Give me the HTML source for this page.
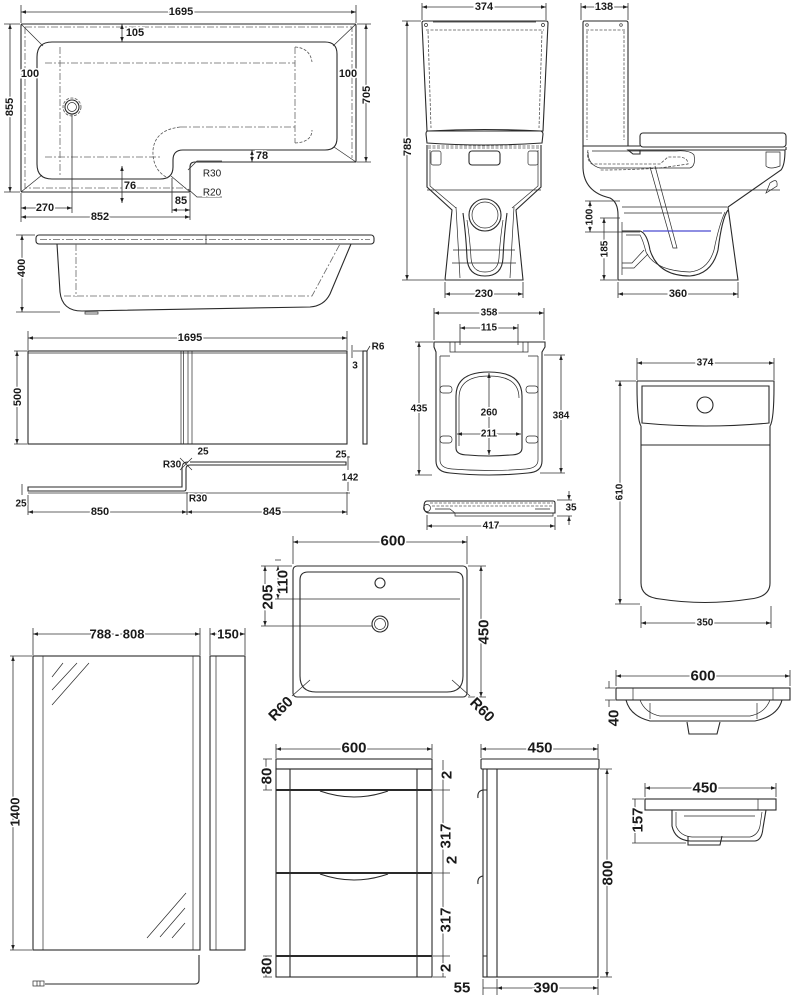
<!DOCTYPE html>
<html><head><meta charset="utf-8"><style>
html,body{margin:0;padding:0;background:#fff;}
svg{display:block;}
.l{fill:none;stroke:#2a2a2a;stroke-width:1.1;}
.th{fill:none;stroke:#2a2a2a;stroke-width:0.7;}
.dd{fill:none;stroke:#666;stroke-width:0.8;stroke-dasharray:7 2 2 2;}
.ds{fill:none;stroke:#555;stroke-width:0.8;stroke-dasharray:3 1.5;}
.d{fill:none;stroke:#333;stroke-width:0.8;}
.t{font-family:"Liberation Sans",sans-serif;font-weight:bold;font-size:11px;fill:#1a1a1a;stroke:#fff;stroke-width:3;paint-order:stroke;text-anchor:middle;dominant-baseline:central;}
.b{font-size:15px;}
.m{font-size:13px;}
.s{font-size:10px;}
</style></head><body>
<svg width="800" height="1000" viewBox="0 0 800 1000" xmlns="http://www.w3.org/2000/svg">
<defs>
<marker id="a" viewBox="0 0 10 10" refX="10" refY="5" markerWidth="5" markerHeight="5" markerUnits="userSpaceOnUse" orient="auto-start-reverse"><path d="M0,1.5 L10,5 L0,8.5z" fill="#222"/></marker>
</defs>

<!-- ================= BATH TOP VIEW ================= -->
<g>
<path class="l" d="M22,24 H355 Q356,24 356,26 V162 H195 Q190,162 190,167 V192 H22 Q21,192 21,190 V26 Q21,24 22,24 Z"/>
<path class="dd" d="M25,27 H352 V158 M25,27 V188 H186"/>
<path class="l" d="M52,42 H325 Q337,42 337,54 V138 Q337,150 325,150 H183 Q173,150 173,160 V167 Q173,179 160,179 H52 Q37,179 37,164 V57 Q37,42 52,42 Z"/>
<path class="th" d="M21,24 L43,46 M356,24 L333,46 M356,162 L334,147 M21,192 L42,175 M190,192 L171,176"/>
<path class="dd" d="M45,63 H295 M60,47 V175 M45,157 H160 M295,47 V143 M180,127 H295"/>
<path class="ds" d="M180,127 Q155,130 153,150 Q152,170 168,178 M295,47 Q310,48 312,62 M295,143 Q312,142 312,130"/>
<circle class="l" cx="72" cy="107" r="7"/><circle class="th" cx="72" cy="107" r="4.5"/><circle class="ds" cx="72" cy="107" r="9"/>
<path class="d" d="M72,114 V213"/>
<!-- dims -->
<path class="d" d="M21,5 V23 M356,5 V23"/>
<line class="d" x1="21" y1="12" x2="356" y2="12" marker-start="url(#a)" marker-end="url(#a)"/>
<text class="t" x="181" y="12">1695</text>
<path class="d" d="M4,24 H20 M4,192 H20"/>
<line class="d" x1="10" y1="24" x2="10" y2="192" marker-start="url(#a)" marker-end="url(#a)"/>
<text class="t" transform="translate(10,107) rotate(-90)">855</text>
<path class="d" d="M357,24 H371 M357,162 H371"/>
<line class="d" x1="366" y1="24" x2="366" y2="162" marker-start="url(#a)" marker-end="url(#a)"/>
<text class="t" transform="translate(367,95) rotate(-90)">705</text>
<line class="d" x1="122" y1="24" x2="122" y2="42" marker-start="url(#a)" marker-end="url(#a)"/>
<text class="t" x="135" y="33">105</text>
<text class="t" x="30" y="74">100</text>
<text class="t" x="348" y="74">100</text>
<line class="d" x1="252" y1="150" x2="252" y2="162" marker-start="url(#a)" marker-end="url(#a)"/>
<text class="t" x="262" y="156">78</text>
<line class="d" x1="122" y1="166" x2="122" y2="203" marker-start="url(#a)" marker-end="url(#a)"/>
<text class="t" x="130" y="186">76</text>
<path class="d" d="M172,178 V213 M190,193 V220"/>
<line class="d" x1="172" y1="210" x2="190" y2="210" marker-start="url(#a)" marker-end="url(#a)"/>
<text class="t" x="181" y="201">85</text>
<path class="d" d="M188,170 L197,161 H222"/>
<text class="t s" x="212" y="174" style="font-weight:normal">R30</text>
<path class="d" d="M188,189 L197,197 H222"/>
<text class="t s" x="212" y="193" style="font-weight:normal">R20</text>
<path class="d" d="M21,193 V222"/>
<line class="d" x1="21" y1="208" x2="72" y2="208" marker-start="url(#a)" marker-end="url(#a)"/>
<text class="t" x="45" y="208">270</text>
<line class="d" x1="21" y1="217" x2="190" y2="217" marker-start="url(#a)" marker-end="url(#a)"/>
<text class="t" x="100" y="217">852</text>
</g>

<!-- ================= BATH SIDE VIEW ================= -->
<g>
<rect class="l" x="36" y="235" width="338" height="9" rx="3"/>
<path class="dd" d="M40,239.5 H370"/>
<path class="th" d="M206,235 V244"/>
<path class="l" d="M57,244 L60,292 Q62,311 82,311 L310,307 Q324,306 330,294 L351,244"/>
<path class="dd" d="M76,244 V297 M64,296 H312 L340,244"/>
<path class="th" d="M85,312 H98 V314 H85 Z"/>
<path class="d" d="M16,235 H35 M16,312 H60"/>
<line class="d" x1="22" y1="235" x2="22" y2="312" marker-start="url(#a)" marker-end="url(#a)"/>
<text class="t" transform="translate(22,268) rotate(-90)">400</text>
</g>

<!-- ================= BATH PANEL ================= -->
<g>
<path class="d" d="M28,331 V350 M347,331 V350"/>
<line class="d" x1="28" y1="338" x2="347" y2="338" marker-start="url(#a)" marker-end="url(#a)"/>
<text class="t" x="190" y="338">1695</text>
<rect class="l" x="28" y="351" width="319" height="93"/>
<path class="th" d="M28,353 H347"/>
<path class="th" d="M181,351 V444 M183.5,351 V444 M188,351 V444 M192,351 V444"/>
<path class="d" d="M14,351 H27 M14,444 H27"/>
<line class="d" x1="17" y1="351" x2="17" y2="444" marker-start="url(#a)" marker-end="url(#a)"/>
<text class="t" transform="translate(18,397) rotate(-90)">500</text>
<rect class="l" x="363" y="351" width="4" height="93"/>
<path class="d" d="M353,351 H363 M352,345 V358 M367,351 L370,346"/>
<text class="t s" x="378" y="347">R6</text>
<text class="t s" x="355" y="366">3</text>
<!-- plan -->
<path class="l" d="M190,462 H346 V465 H190 Q186,465 186,469 V489 Q186,491 184,491 H28 V487 H182 V468 Q182,462 188,462"/>
<path class="d" d="M348,456 V470 M340,457 H350 M348,478 V491 M28,493 H350 M22,484 V495 M28,495 V515 M187,492 V515 M347,492 V515"/>
<path class="th" d="M180,458 L192,470 M192,458 L180,470"/>
<text class="t s" x="172" y="465">R30</text>
<text class="t s" x="203" y="452">25</text>
<text class="t s" x="341" y="455">25</text>
<text class="t s" x="350" y="478">142</text>
<text class="t s" x="21" y="504">25</text>
<text class="t s" x="198" y="499">R30</text>
<line class="d" x1="28" y1="512" x2="187" y2="512" marker-start="url(#a)" marker-end="url(#a)"/>
<text class="t" x="100" y="512">850</text>
<line class="d" x1="187" y1="512" x2="347" y2="512" marker-start="url(#a)" marker-end="url(#a)"/>
<text class="t" x="272" y="512">845</text>
</g>

<!-- ================= TOILET FRONT ================= -->
<g>
<path class="d" d="M422,3 V20 M546,3 V20"/>
<line class="d" x1="422" y1="7" x2="546" y2="7" marker-start="url(#a)" marker-end="url(#a)"/>
<text class="t" x="484" y="7">374</text>
<path class="l" d="M424,21 H546 Q548,21 548,23 L543,131 H427 L422,23 Q422,21 424,21 Z"/>
<path class="ds" d="M426,30 H544 M428,31 L431,128 M542,31 L539,128"/>
<circle class="th" cx="426" cy="25" r="1.5"/><circle class="th" cx="543" cy="25" r="1.5"/>
<path class="th" d="M433,22 H536"/>
<path class="l" d="M428,131 Q484,128 541,131 Q543,132 543,134 L542,143 Q484,147 427,143 L426,134 Q426,131 428,131 Z"/>
<path class="ds" d="M428,146 H541 M428,148 H541"/>
<path class="l" d="M427,145 V187 L452,210 L445,280 H523 L516,210 L541,187 V145"/>
<path class="th" d="M430,150 V186 L456,208 M538,150 V186 L512,208"/>
<path class="th" d="M427,190 H541"/>
<rect class="th" x="431" y="151" width="10" height="14" rx="2"/>
<rect class="th" x="528" y="151" width="10" height="14" rx="2"/>
<rect class="l" x="469" y="151" width="31" height="14" rx="3"/>
<circle class="l" cx="485" cy="215" r="16"/><circle class="th" cx="485" cy="215" r="13"/>
<path class="th" d="M453,250 H515 M452,263 H516"/>
<path class="l" d="M463,213 Q466,235 467,258 Q468,276 485,276 Q502,276 503,258 Q504,235 507,213"/>
<path class="th" d="M467,220 Q470,240 471,258 Q472,272 485,272 Q498,272 499,258 Q500,240 503,220"/>
<path class="th" d="M456,207 L460,278 M514,207 L510,278"/>
<path class="d" d="M402,21 H421 M402,280 H444"/>
<line class="d" x1="407" y1="21" x2="407" y2="280" marker-start="url(#a)" marker-end="url(#a)"/>
<text class="t" transform="translate(408,147) rotate(-90)">785</text>
<path class="d" d="M445,282 V298 M523,282 V298"/>
<line class="d" x1="445" y1="294" x2="523" y2="294" marker-start="url(#a)" marker-end="url(#a)"/>
<text class="t" x="484" y="294">230</text>
</g>

<!-- ================= TOILET SIDE ================= -->
<g>
<path class="d" d="M581,3 V20 M628,3 V20"/>
<line class="d" x1="581" y1="7" x2="628" y2="7" marker-start="url(#a)" marker-end="url(#a)"/>
<text class="t" x="604" y="7">138</text>
<path class="l" d="M584,21 H626 Q628,21 628,23 V146 H583 V23 Q583,21 584,21 Z"/>
<path class="ds" d="M586,30 H625 M587,31 V140 M624,31 V140"/>
<circle class="th" cx="587" cy="25" r="1.3"/><circle class="th" cx="621" cy="25" r="1.3"/>
<rect class="l" x="640" y="133" width="146" height="14" rx="3"/>
<path class="l" d="M583,146 H640 M786,147 V150 M583,146 V168 Q584,192 610,198 Q618,202 618,215 V280 H738 L728,207 L781,170 Q785,165 785,150 H628 L633,154 H640 V150"/>
<path class="th" d="M600,190 H780 M622,207 H727"/>
<path class="ds" d="M588,150 Q586,160 592,164 H660 L668,157 H680 Q688,158 688,164 L660,168 Q630,170 600,170"/>
<path class="th" d="M588,152 Q588,165 600,168 H690 Q696,166 694,155 Q690,150 676,151 H592"/>
<path class="th" d="M650,167 L673,248 L677,248 L655,166"/>
<path class="th" d="M766,152 H780 V166 Q770,170 766,166 Z"/>
<path class="th" d="M770,183 Q778,177 777,186 L766,193 Z"/>
<path class="l" d="M622,231 H640 Q647,233 650,250 Q658,276 690,276 Q712,274 718,250 Q722,218 728,210"/>
<path class="th" d="M626,235 H640 Q643,240 646,252 Q655,271 690,272 Q708,270 714,250 Q719,225 725,212"/>
<path class="th" d="M622,263 H632 L644,250 M622,268 H634 L648,254"/>
<path class="th" d="M624,213 H722 M622,222 V275"/>
<line x1="643" y1="231" x2="711" y2="231" stroke="#4a4ad0" stroke-width="1.2"/>
<path class="d" d="M585,201 H620 M585,232 H640 M600,218 H620 M600,280 H617"/>
<line class="d" x1="590" y1="201" x2="590" y2="232" marker-start="url(#a)" marker-end="url(#a)"/>
<text class="t s" transform="translate(590,217) rotate(-90)">100</text>
<line class="d" x1="604" y1="218" x2="604" y2="280" marker-start="url(#a)" marker-end="url(#a)"/>
<text class="t s" transform="translate(605,249) rotate(-90)">185</text>
<path class="d" d="M618,282 V298 M738,282 V298"/>
<line class="d" x1="618" y1="294" x2="738" y2="294" marker-start="url(#a)" marker-end="url(#a)"/>
<text class="t" x="678" y="294">360</text>
</g>

<!-- ================= SEAT ================= -->
<g>
<path class="d" d="M434,308 V340 M544,308 V340 M460,324 V345 M518,324 V345"/>
<line class="d" x1="434" y1="313" x2="544" y2="313" marker-start="url(#a)" marker-end="url(#a)"/>
<text class="t s" x="489" y="313">358</text>
<line class="d" x1="460" y1="328" x2="518" y2="328" marker-start="url(#a)" marker-end="url(#a)"/>
<text class="t s" x="489" y="328">115</text>
<path class="l" d="M434,342 H545 V347 L542,352 V461 Q542,472 528,473 Q489,477 450,473 Q436,472 436,461 V352 L434,347 Z"/>
<path class="th" d="M450,342 V352 H455 V342 M523,342 V352 H528 V342 M455,352 H523"/>
<path class="th" d="M440,356 H450 M528,356 H538 M440,356 V460 Q440,468 452,469 Q489,472 526,469 Q538,468 538,460 V356"/>
<path class="l" d="M456,448 V396 Q456,372 489,372 Q522,372 522,396 V448 Q522,455 510,455 Q489,457 468,455 Q456,455 456,448 Z"/>
<path class="th" d="M459,446 V398 Q459,376 489,376 Q519,376 519,398"/>
<rect class="th" x="440" y="386" width="12" height="7" rx="3"/>
<rect class="th" x="526" y="386" width="12" height="7" rx="3"/>
<rect class="th" x="440" y="436" width="12" height="7" rx="3"/>
<rect class="th" x="526" y="436" width="12" height="7" rx="3"/>
<line class="d" x1="489" y1="373" x2="489" y2="455" marker-start="url(#a)" marker-end="url(#a)"/>
<text class="t s" x="489" y="413">260</text>
<line class="d" x1="457" y1="434" x2="521" y2="434" marker-start="url(#a)" marker-end="url(#a)"/>
<text class="t s" x="489" y="434">211</text>
<path class="d" d="M415,342 H433 M415,475 H432"/>
<line class="d" x1="419" y1="342" x2="419" y2="475" marker-start="url(#a)" marker-end="url(#a)"/>
<text class="t s" x="419" y="409">435</text>
<path class="d" d="M544,355 H565 M540,473 H565"/>
<line class="d" x1="561" y1="355" x2="561" y2="473" marker-start="url(#a)" marker-end="url(#a)"/>
<text class="t s" x="561" y="416">384</text>
<!-- seat side -->
<path class="l" d="M427,501 H553 Q555,501 555,503 V513 H430 Q424,513 424,507 Q424,501 427,501 Z"/>
<path class="ds" d="M430,503 H553 M432,506 H553"/>
<circle class="th" cx="427" cy="508" r="3.5"/>
<path class="th" d="M435,509 H450 L455,513 M535,509 H550 M455,513 V516 H553 V513"/>
<path class="d" d="M427,515 V530 M555,517 V530 M557,500 H572 M557,516 H572"/>
<line class="d" x1="427" y1="526" x2="555" y2="526" marker-start="url(#a)" marker-end="url(#a)"/>
<text class="t s" x="491" y="526">417</text>
<line class="d" x1="569" y1="491" x2="569" y2="500" marker-end="url(#a)"/>
<line class="d" x1="569" y1="525" x2="569" y2="516" marker-end="url(#a)"/>
<text class="t s" x="571" y="508">35</text>
</g>

<!-- ================= CISTERN BACK ================= -->
<g>
<path class="d" d="M637,358 V380 M774,358 V380"/>
<line class="d" x1="637" y1="363" x2="774" y2="363" marker-start="url(#a)" marker-end="url(#a)"/>
<text class="t s" x="705" y="363">374</text>
<path class="l" d="M637,381 H774 V386 Q774,420 770,426 M637,381 V386 Q637,420 641,426"/>
<path class="l" d="M642,386 H769 V423 Q705,429 642,423 Z"/>
<circle class="l" cx="705" cy="405" r="8"/>
<path class="l" d="M641,426 V583 Q641,597 660,599 Q705,606 750,599 Q770,597 770,583 V426"/>
<path class="l" d="M641,445 H770"/>
<path class="d" d="M615,381 H636 M615,604 H640"/>
<line class="d" x1="620" y1="381" x2="620" y2="604" marker-start="url(#a)" marker-end="url(#a)"/>
<text class="t s" transform="translate(620,492) rotate(-90)">610</text>
<path class="d" d="M641,606 V628 M771,606 V628"/>
<line class="d" x1="641" y1="623" x2="771" y2="623" marker-start="url(#a)" marker-end="url(#a)"/>
<text class="t s" x="705" y="623">350</text>
</g>

<!-- ================= BASIN TOP ================= -->
<g>
<path class="d" d="M293,536 V564 M467,536 V564"/>
<line class="d" x1="293" y1="542" x2="467" y2="542" marker-start="url(#a)" marker-end="url(#a)"/>
<text class="t b" x="393" y="541">600</text>
<rect class="l" x="293" y="566" width="174" height="131" rx="4"/>
<path class="l" d="M308,572 H455 Q463,572 463,580 V676 Q463,692 447,692 H316 Q300,692 300,676 V580 Q300,572 308,572 Z"/>
<path class="th" d="M300,599 H460"/>
<circle class="l" cx="380" cy="583" r="5"/>
<circle class="l" cx="380" cy="624" r="8"/><circle class="th" cx="380" cy="624" r="5.5"/>
<path class="d" d="M261,566 H292 M261,626 H372 M275,599 H300 M275,560 H281"/>
<line class="d" x1="265" y1="566" x2="265" y2="626" marker-start="url(#a)" marker-end="url(#a)"/>
<text class="t b" transform="translate(268,597) rotate(-90)">205</text>
<line class="d" x1="278" y1="566" x2="278" y2="599" marker-start="url(#a)" marker-end="url(#a)"/>
<text class="t b" transform="translate(283,582) rotate(-90)">110</text>
<path class="d" d="M468,566 H486 M468,697 H486"/>
<line class="d" x1="481" y1="566" x2="481" y2="697" marker-start="url(#a)" marker-end="url(#a)"/>
<text class="t b" transform="translate(484,632) rotate(-90)">450</text>
<path class="d" d="M310,680 L292,696 M452,680 L470,696"/>
<text class="t b" transform="translate(281,709) rotate(-45)">R60</text>
<text class="t b" transform="translate(482,710) rotate(45)">R60</text>
</g>

<!-- ================= MIRROR ================= -->
<g>
<path class="d" d="M33,628 V655 M200,628 V655"/>
<line class="d" x1="33" y1="634" x2="200" y2="634" marker-start="url(#a)" marker-end="url(#a)"/>
<text class="t m" x="117" y="634">788 - 808</text>
<rect class="l" x="33" y="656" width="167" height="294"/>
<path class="th" d="M43,656 V950 M193,656 V950"/>
<path class="th" d="M52,677 L63,663 M52,690 L77,663 M52,705 L89,663 M147,938 L186,893 M160,937 L185,908 M172,938 L185,923"/>
<path class="d" d="M210,628 V655 M245,628 V655"/>
<line class="d" x1="210" y1="634" x2="245" y2="634" marker-start="url(#a)" marker-end="url(#a)"/>
<text class="t m" x="228" y="634">150</text>
<rect class="l" x="210" y="656" width="35" height="294"/>
<path class="th" d="M216,656 V950"/>
<path class="d" d="M10,656 H32 M10,950 H32"/>
<line class="d" x1="13" y1="656" x2="13" y2="950" marker-start="url(#a)" marker-end="url(#a)"/>
<text class="t m" transform="translate(15,812) rotate(-90)">1400</text>
<path class="l" d="M199,955 V980 Q199,984 195,984 H45"/>
<rect class="th" x="33" y="981" width="11" height="5"/>
<path class="th" d="M37,981 V986 M40,981 V986"/>
</g>

<!-- ================= CABINET FRONT ================= -->
<g>
<path class="d" d="M276,744 V758 M432,744 V758"/>
<line class="d" x1="276" y1="749" x2="432" y2="749" marker-start="url(#a)" marker-end="url(#a)"/>
<text class="t b" x="354" y="748">600</text>
<rect class="l" x="276" y="759" width="156" height="10"/>
<rect class="l" x="276" y="769" width="156" height="208"/>
<path class="l" d="M290,769 V977 M417,769 V977"/>
<path d="M276,790 H432 M276,873 H432 M276,956 H432" stroke="#2a2a2a" stroke-width="2" fill="none"/>
<path class="l" d="M320,791 Q354,803 388,791 M320,874 Q354,886 388,874"/>
<path class="d" d="M263,759 H272 M263,790 H272 M263,956 H272 M263,977 H272 M266,759 V790 M266,956 V977"/>
<text class="t b" transform="translate(267,776) rotate(-90)">80</text>
<text class="t b" transform="translate(267,966) rotate(-90)">80</text>
<path class="d" d="M433,790 H450 M433,873 H450 M433,956 H450 M433,977 H446 M443,760 V977"/>
<text class="t b" transform="translate(447,775) rotate(-90)">2</text>
<text class="t b" transform="translate(446,836) rotate(-90)">317</text>
<text class="t b" transform="translate(452,860) rotate(-90)">2</text>
<text class="t b" transform="translate(446,920) rotate(-90)">317</text>
<text class="t b" transform="translate(446,968) rotate(-90)">2</text>
</g>

<!-- ================= CABINET SIDE ================= -->
<g>
<path class="d" d="M481,744 V758 M598,744 V758"/>
<line class="d" x1="481" y1="749" x2="598" y2="749" marker-start="url(#a)" marker-end="url(#a)"/>
<text class="t b" x="540" y="748">450</text>
<rect class="l" x="481" y="759" width="118" height="10" rx="1"/>
<rect class="l" x="483" y="769" width="115" height="208"/>
<path class="l" d="M487,769 V977 M497,769 V977"/>
<path class="l" d="M483,790 Q477,791 478,798 M483,876 Q477,877 478,884 M483,790 H487 M483,956 H487"/>
<path class="d" d="M483,979 V995 M497,979 V995 M598,979 V995"/>
<line class="d" x1="483" y1="988" x2="497" y2="988"/>
<line class="d" x1="497" y1="988" x2="598" y2="988" marker-start="url(#a)" marker-end="url(#a)"/>
<text class="t b" x="462" y="988">55</text>
<text class="t b" x="546" y="988">390</text>
<path class="d" d="M600,769 H612 M600,977 H612"/>
<line class="d" x1="607" y1="769" x2="607" y2="977" marker-start="url(#a)" marker-end="url(#a)"/>
<text class="t b" transform="translate(608,873) rotate(-90)">800</text>
</g>

<!-- ================= BASIN SIDE VIEWS ================= -->
<g>
<path class="d" d="M616,670 V686 M790,670 V686"/>
<line class="d" x1="616" y1="676" x2="790" y2="676" marker-start="url(#a)" marker-end="url(#a)"/>
<text class="t b" x="703" y="676">600</text>
<rect class="l" x="616" y="688" width="174" height="12"/>
<path class="th" d="M633,688 V700 M773,688 V700"/>
<path class="l" d="M626,700 Q630,716 650,721 H755 Q778,716 782,700"/>
<path class="th" d="M640,700 Q645,713 660,716 H750 Q765,713 770,700 M650,703 V719 M757,703 V719"/>
<path class="l" d="M687,722 L689,734 H717 L720,722"/>
<path class="d" d="M605,688 H615 M605,700 H615 M609,681 V688 M609,700 V707"/>
<text class="t b" transform="translate(614,718) rotate(-90)">40</text>
<path class="d" d="M645,783 V797 M776,783 V797"/>
<line class="d" x1="645" y1="788" x2="776" y2="788" marker-start="url(#a)" marker-end="url(#a)"/>
<text class="t b" x="705" y="788">450</text>
<rect class="l" x="645" y="799" width="131" height="11"/>
<path class="th" d="M758,799 V810"/>
<path class="l" d="M672,810 V826 Q675,840 690,841 H755 Q762,840 763,828 L766,810"/>
<path class="th" d="M676,812 V826 Q680,836 692,837 H750 Q758,835 760,826 L762,812 M684,816 H755"/>
<path class="l" d="M688,836 V845 H720 L722,836"/>
<path class="d" d="M632,799 H644 M632,843 H686 M635,799 V843"/>
<text class="t b" transform="translate(638,820) rotate(-90)">157</text>
</g>
</svg>
</body></html>
